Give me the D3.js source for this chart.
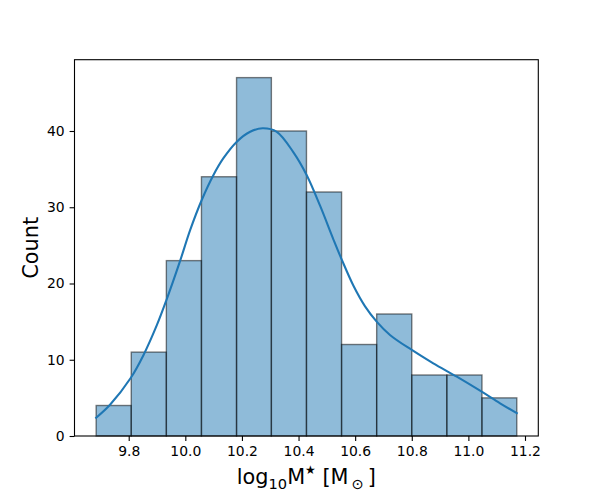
<!DOCTYPE html>
<html lang="en">

<head>
    <meta charset="UTF-8">
    <title>Stellar mass histogram</title>
    <style>
        body {
            margin: 0;
            background: white;
        }

        text {
            font-family: "DejaVu Sans", sans-serif;
        }
    </style>
</head>

<body>
    <div id="chart-container"></div>

    <script src="https://d3js.org/d3.v7.min.js"></script>
    <script>
        // bin edges (log10 M*) and counts
        const binEdges = [9.685, 9.809, 9.933, 10.057, 10.181, 10.304, 10.428, 10.552, 10.676, 10.800, 10.924, 11.048, 11.171];
        const binCounts = [4, 11, 23, 34, 47, 40, 32, 12, 16, 8, 8, 5];

        // kde curve, scaled to counts
        const kdeX = [9.685, 9.734, 9.807, 9.852, 9.899, 9.932, 9.981, 10.017, 10.058, 10.099, 10.134, 10.182, 10.229, 10.273,
            10.323, 10.382, 10.429, 10.476, 10.523, 10.553, 10.594, 10.635, 10.676, 10.723, 10.800, 10.876, 10.959, 11.047, 11.112, 11.171];
        const kdeY = [2.4, 4.1, 7.6, 10.6, 14.5, 17.7, 22.9, 27.0, 30.95, 34.2, 36.4, 38.6, 39.9, 40.35,
            39.9, 37.2, 34.2, 30.2, 25.8, 23.1, 19.7, 17.0, 15.0, 13.25, 11.28, 9.53, 7.78, 5.81, 4.29, 3.0];

        const xTicks = [9.8, 10.0, 10.2, 10.4, 10.6, 10.8, 11.0, 11.2];
        const yTicks = [0, 10, 20, 30, 40];

        const W = 598, H = 499;
        const margin = { top: 59.7, right: 59.7, bottom: 63, left: 74.5 };
        const width = W - margin.left - margin.right;
        const height = H - margin.top - margin.bottom;

        const barFill = "#1f77b4";
        const tickFont = "13.9px";

        const x = d3.scaleLinear().domain([9.6085, 11.247]).range([0, width]);
        const y = d3.scaleLinear().domain([0, 49.35]).range([height, 0]);

        const svg = d3.select("#chart-container")
          .append("svg")
          .attr("width", W)
          .attr("height", H)
          .append("g")
          .attr("transform", `translate(${margin.left},${margin.top})`);

        const bins = binCounts.map((c, i) => ({ x0: binEdges[i], x1: binEdges[i + 1], count: c }));

        // bars: face and edge both at alpha .5 like matplotlib
        svg.selectAll(".bar")
          .data(bins)
          .join("rect")
          .attr("class", "bar")
          .attr("x", d => x(d.x0))
          .attr("y", d => y(d.count))
          .attr("width", d => x(d.x1) - x(d.x0))
          .attr("height", d => y(0) - y(d.count))
          .attr("fill", barFill)
          .attr("fill-opacity", 0.5)
          .attr("stroke", "#000")
          .attr("stroke-opacity", 0.5)
          .attr("stroke-width", 1.39);

        const kde = kdeX.map((v, i) => [v, kdeY[i]]);

        svg.append("path")
          .datum(kde)
          .attr("fill", "none")
          .attr("stroke", barFill)
          .attr("stroke-width", 2.08)
          .attr("stroke-linecap", "square")
          .attr("d", d3.line()
            .x(d => x(d[0]))
            .y(d => y(d[1]))
            .curve(d3.curveCatmullRom));

        // axes
        const xAxis = svg.append("g")
          .attr("transform", `translate(0,${height})`)
          .call(d3.axisBottom(x)
            .tickValues(xTicks)
            .tickFormat(d3.format(".1f"))
            .tickSize(4.9)
            .tickPadding(4.9))
          .call(g => g.select(".domain").remove());

        const yAxis = svg.append("g")
          .call(d3.axisLeft(y)
            .tickValues(yTicks)
            .tickFormat(d3.format("d"))
            .tickSize(4.9)
            .tickPadding(4.9))
          .call(g => g.select(".domain").remove());

        [xAxis, yAxis].forEach(g => {
          g.selectAll(".tick line").attr("stroke", "#000").attr("stroke-width", 1.1);
          g.selectAll(".tick text")
            .attr("fill", "#000")
            .style("font-size", tickFont)
            .style("font-family", "'DejaVu Sans', sans-serif");
        });

        // frame
        svg.append("rect")
          .attr("width", width)
          .attr("height", height)
          .attr("fill", "none")
          .attr("stroke", "#000")
          .attr("stroke-width", 1.1);

        // labels
        svg.append("text")
          .attr("transform", `translate(${38 - margin.left},${height / 2}) rotate(-90)`)
          .attr("text-anchor", "middle")
          .style("font-size", "20.8px")
          .attr("fill", "#000")
          .text("Count");

        const xl = svg.append("text")
          .attr("x", width / 2)
          .attr("y", 484.3 - margin.top)
          .attr("text-anchor", "middle")
          .style("font-size", "20.8px")
          .attr("fill", "#000");
        xl.append("tspan").text("log");
        xl.append("tspan").attr("dy", 4.5).style("font-size", "14.6px").text("10");
        xl.append("tspan").attr("dy", -4.5).text("M");
        xl.append("tspan").attr("dy", -10.5).style("font-size", "12px").text("\u2605");
        xl.append("tspan").attr("dy", 10.5).text(" [M");
        xl.append("tspan").attr("dy", 4.5).style("font-size", "14.6px").text("\u2009\u2299");
        xl.append("tspan").attr("dy", -4.5).text("\u2009]");
    </script>
</body>
</html>
